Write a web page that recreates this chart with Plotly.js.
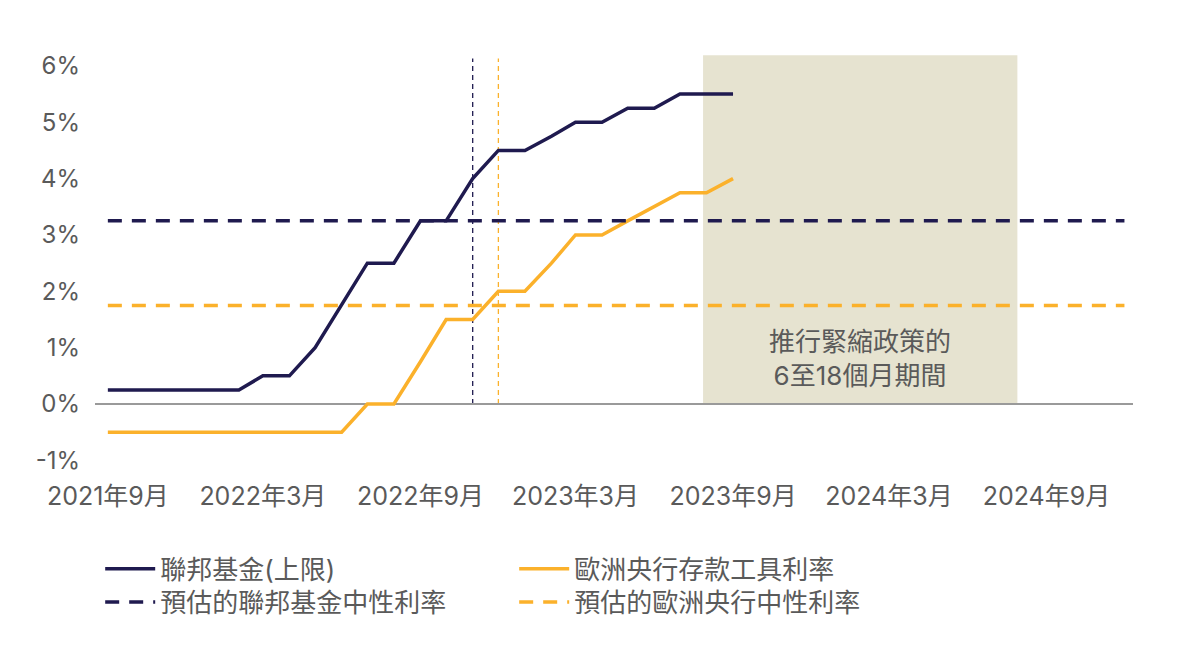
<!DOCTYPE html>
<html>
<head>
<meta charset="utf-8">
<script src="https://cdn.plot.ly/plotly-3.0.1.min.js"></script>
<style>html,body{margin:0;padding:0;background:#fff;}#chart{width:1200px;height:665px;}</style>
</head>
<body>
<div id="chart"></div>
<script>
// Monthly observations, Sep 2021 - Sep 2023
const months = ['2021-09-01','2021-10-01','2021-11-01','2021-12-01','2022-01-01','2022-02-01','2022-03-01','2022-04-01','2022-05-01','2022-06-01','2022-07-01','2022-08-01','2022-09-01','2022-10-01','2022-11-01','2022-12-01','2023-01-01','2023-02-01','2023-03-01','2023-04-01','2023-05-01','2023-06-01','2023-07-01','2023-08-01','2023-09-01'];
const fedUpper = [0.25,0.25,0.25,0.25,0.25,0.25,0.5,0.5,1.0,1.75,2.5,2.5,3.25,3.25,4.0,4.5,4.5,4.75,5.0,5.0,5.25,5.25,5.5,5.5,5.5];
const ecbDeposit = [-0.5,-0.5,-0.5,-0.5,-0.5,-0.5,-0.5,-0.5,-0.5,-0.5,0.0,0.0,0.75,1.5,1.5,2.0,2.0,2.5,3.0,3.0,3.25,3.5,3.75,3.75,4.0];
// Estimated neutral rates (horizontal)
const neutralSpan = ['2021-09-01','2024-12-01'];
const fedNeutral = [3.25,3.25];
const ecbNeutral = [1.75,1.75];
// Reference verticals and tightening window
const fedMarker = '2022-11-01';
const ecbMarker = '2022-12-01';
const markerTop = 6.13;
const windowSpan = ['2023-07-28','2024-07-29'];
const windowTop = 6.19;
const windowLabel = '推行緊縮政策的<br>6至18個月期間';
const windowLabelY = 0.8;
// Axis ticks
const xTickVals = ['2021-09-01','2022-03-01','2022-09-01','2023-03-01','2023-09-01','2024-03-01','2024-09-01'];
const xTickText = ['2021年9月','2022年3月','2022年9月','2023年3月','2023年9月','2024年3月','2024年9月'];
const yTickVals = [-1,0,1,2,3,4,5,6];
const yTickText = ['-1%','0%','1%','2%','3%','4%','5%','6%'];
const names = ['聯邦基金(上限)','歐洲央行存款工具利率','預估的聯邦基金中性利率','預估的歐洲央行中性利率'];

const NAVY = '#1f1a4f';
const ORANGE = '#fbb12b';
const TXT = '#5a5a5a';
const FONT = "Inter, 'Noto Sans CJK TC', sans-serif";

const mid = new Date((new Date(windowSpan[0]).getTime() + new Date(windowSpan[1]).getTime())/2).toISOString().slice(0,10);

const traces = [
  {x: months, y: fedUpper, name: names[0], mode:'lines', line:{color:NAVY, width:3.5}, legend:'legend', hoverinfo:'skip'},
  {x: months, y: ecbDeposit, name: names[1], mode:'lines', line:{color:ORANGE, width:3.5}, legend:'legend', hoverinfo:'skip'},
  {x: neutralSpan, y: fedNeutral, name: names[2], mode:'lines', line:{color:NAVY, width:3.5, dash:'14px,10px'}, legend:'legend2', hoverinfo:'skip'},
  {x: neutralSpan, y: ecbNeutral, name: names[3], mode:'lines', line:{color:ORANGE, width:3.5, dash:'14px,10px'}, legend:'legend2', hoverinfo:'skip'}
];

const legendBase = {orientation:'h', x:0.005, xanchor:'left', yanchor:'top', entrywidth:349, itemwidth:50, font:{size:26, color:TXT}, bgcolor:'rgba(0,0,0,0)', traceorder:'normal'};

const layout = {
  width:1200, height:665,
  margin:{l:95, r:67, t:49, b:199},
  paper_bgcolor:'#fff', plot_bgcolor:'#fff',
  font:{family:FONT, size:24, color:TXT},
  showlegend:true,
  xaxis:{
    type:'date', range:['2021-08-17','2024-12-11'],
    tickvals:xTickVals, ticktext:xTickText, tickangle:0,
    showgrid:false, zeroline:false, showline:false, ticks:'',
    ticklabelstandoff:13, tickfont:{size:25, color:TXT}
  },
  yaxis:{
    range:[-1.1,6.3], tickvals:yTickVals, ticktext:yTickText,
    showgrid:false, zeroline:true, zerolinecolor:'#9a9a9a', zerolinewidth:1.5,
    showline:false, ticks:'', ticklabelstandoff:14, tickfont:{size:24, color:TXT}
  },
  shapes:[
    {type:'rect', xref:'x', yref:'y', x0:windowSpan[0], x1:windowSpan[1], y0:0, y1:windowTop, fillcolor:'#e6e3d0', line:{width:0}, layer:'below'},
    {type:'line', xref:'x', yref:'y', x0:fedMarker, x1:fedMarker, y0:0, y1:markerTop, line:{color:NAVY, width:1.3, dash:'5px,4px'}, layer:'below'},
    {type:'line', xref:'x', yref:'y', x0:ecbMarker, x1:ecbMarker, y0:0, y1:markerTop, line:{color:ORANGE, width:1.3, dash:'5px,4px'}, layer:'below'}
  ],
  annotations:[
    {xref:'x', yref:'y', x:mid, y:windowLabelY, text:windowLabel, showarrow:false, font:{size:26, color:TXT, family:FONT}, align:'center'}
  ],
  legend: Object.assign({}, legendBase, {y:-0.19}),
  legend2: Object.assign({}, legendBase, {y:-0.27})
};

Plotly.newPlot('chart', traces, layout, {displayModeBar:false, staticPlot:true});
</script>
</body>
</html>
